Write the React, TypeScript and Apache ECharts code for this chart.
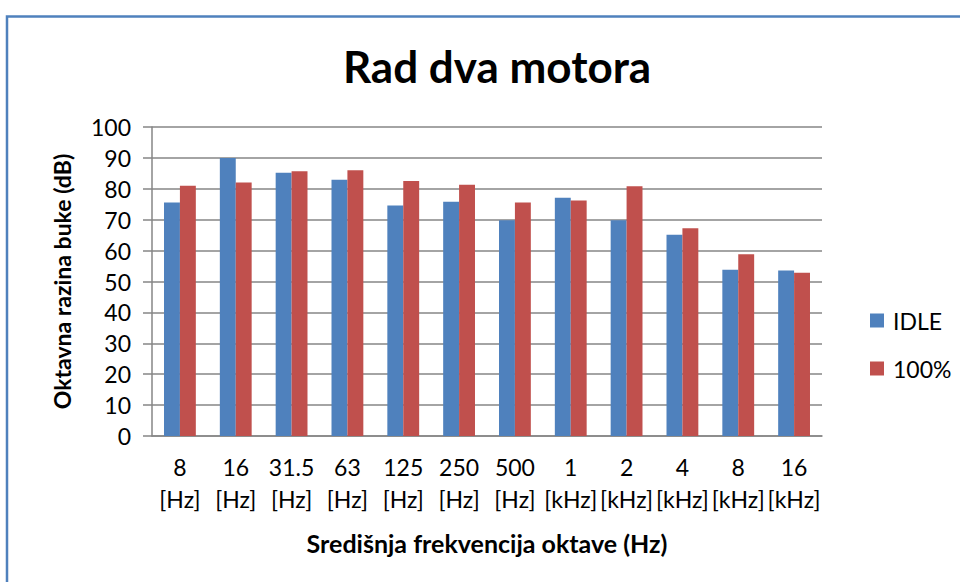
import React, { useEffect, useRef } from "react";
import * as echarts from "echarts";

const categories = ["8\n[Hz]", "16\n[Hz]", "31.5\n[Hz]", "63\n[Hz]", "125\n[Hz]", "250\n[Hz]", "500\n[Hz]", "1\n[kHz]", "2\n[kHz]", "4\n[kHz]", "8\n[kHz]", "16\n[kHz]"];
const idleValues = [75.6, 90.0, 85.2, 82.9, 74.6, 75.8, 69.8, 77.1, 69.8, 65.1, 53.8, 53.6];
const fullValues = [81.0, 82.0, 85.7, 86.0, 82.5, 81.3, 75.6, 76.2, 80.8, 67.2, 58.8, 52.8];
const yTicks = { min: 0, max: 100, interval: 10 };

const FONT = "Lato";

export default function App() {
  const ref = useRef<HTMLDivElement>(null);
  useEffect(() => {
    if (!ref.current) return;
    const chart = echarts.init(ref.current, undefined, { renderer: "svg" });
    chart.setOption({
      animation: false,
      backgroundColor: "#ffffff",
      textStyle: { fontFamily: FONT },
      title: {
        text: "Rad dva motora",
        left: 492,
        top: 39,
        textAlign: "center",
        textStyle: { fontFamily: FONT, fontSize: 44, fontWeight: "bold", color: "#000" },
      },
      graphic: [
        {
          type: "rect",
          shape: { x: 7, y: 16.5, width: 1000, height: 1000 },
          style: { fill: "none", stroke: "#4F81BD", lineWidth: 2.5 },
          silent: true,
        },
      ],
      legend: {
        orient: "vertical",
        left: 865,
        top: 304,
        itemWidth: 14,
        itemHeight: 14,
        itemGap: 25,
        icon: "rect",
        textStyle: { fontFamily: FONT, fontSize: 23, color: "#000", padding: [0, 0, 0, 4] },
        data: ["IDLE", "100%"],
      },
      grid: { left: 152, right: 138, top: 127, bottom: 146, containLabel: false },
      xAxis: {
        type: "category",
        data: categories,
        name: "Središnja frekvencija oktave (Hz)",
        nameLocation: "middle",
        nameGap: 94,
        nameTextStyle: { fontFamily: FONT, fontSize: 25, fontWeight: "bold", color: "#000" },
        axisLine: { lineStyle: { color: "#868686", width: 1.5 } },
        axisTick: { show: false },
        axisLabel: {
          interval: 0,
          margin: 15,
          fontFamily: FONT,
          fontSize: 23,
          lineHeight: 32,
          color: "#000",
        },
      },
      yAxis: {
        type: "value",
        min: yTicks.min,
        max: yTicks.max,
        interval: yTicks.interval,
        name: "Oktavna razina buke (dB)",
        nameLocation: "middle",
        nameGap: 79,
        nameRotate: 90,
        nameTextStyle: { fontFamily: FONT, fontSize: 23, fontWeight: "bold", color: "#000" },
        axisLine: { show: true, lineStyle: { color: "#868686", width: 1.5 } },
        axisTick: { show: true, length: 9, inside: false, lineStyle: { color: "#868686", width: 1.5 } },
        axisLabel: { margin: 21, fontFamily: FONT, fontSize: 23, color: "#000" },
        splitLine: { show: true, lineStyle: { color: "#868686", width: 1.5 } },
      },
      series: [
        {
          name: "IDLE",
          type: "bar",
          data: idleValues,
          barGap: "0%",
          barCategoryGap: "43%",
          itemStyle: { color: "#4F81BD" },
        },
        {
          name: "100%",
          type: "bar",
          data: fullValues,
          barGap: "0%",
          barCategoryGap: "43%",
          itemStyle: { color: "#C0504D" },
        },
      ],
    });
    return () => chart.dispose();
  }, []);
  return (
    <div
      ref={ref}
      style={{ position: "absolute", left: 0, top: 0, width: 960, height: 582 }}
    />
  );
}
